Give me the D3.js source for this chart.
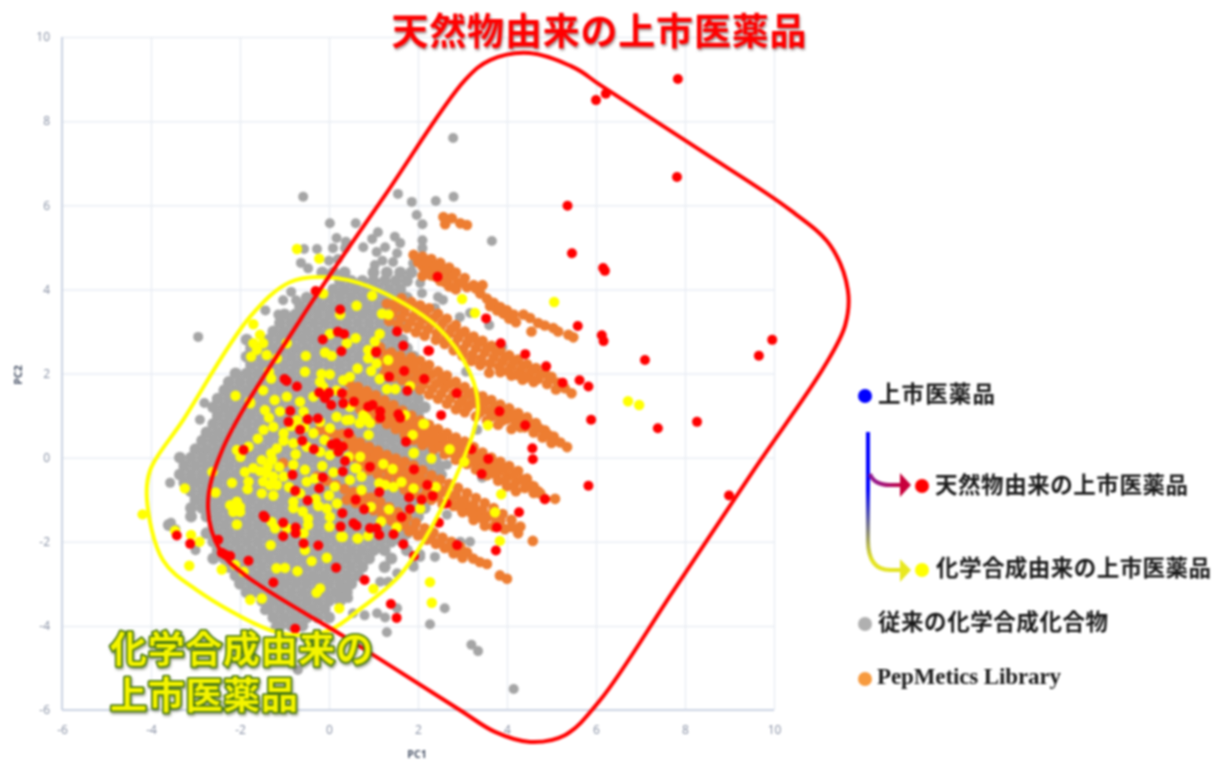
<!DOCTYPE html>
<html lang="ja">
<head>
<meta charset="utf-8">
<script src="https://cdn.jsdelivr.net/npm/d3@7"></script>
<style>
	html, body { margin: 0; padding: 0; background: #fff; }
	svg { display: block; }
	.soft { filter: blur(0.8px); }
	.tick text { font-family: "Open Sans", sans-serif; font-size: 12px; fill: #858ea2; }
	.jp { font-family: "Noto Sans CJK JP", sans-serif; font-weight: 700; }
</style>
</head>
<body>
<div id="chart"></div>
<script>
let axisTicks = [-6, -4, -2, 0, 2, 4, 6, 8, 10];

// grey cloud
let greyRowY = [4.4, 4.2, 4, 3.8, 3.6, 3.4, 3.2, 3, 2.8, 2.6, 2.4, 2.2, 2, 1.8, 1.6, 1.4, 1.2, 1, 0.8, 0.6, 0.4, 0.2, 0, -0.2, -0.4, -0.6, -0.8, -1, -1.2, -1.4, -1.6, -1.8, -2, -2.2, -2.4, -2.6, -2.8, -3, -3.2, -3.4, -3.6, -3.8, -4];
let greyRowX = [
	[-0.15, 0.1, 0.35, 1, 1.3, 1.6, 1.85],
	[0.25, 0.5, 0.75, 1, 1.25, 1.5, 1.75],
	[0.1, 0.35, 0.6, 0.85, 1.1, 1.35, 1.6],
	[-0.5, -0.25, 0, 0.25, 0.5, 0.75, 1, 1.25, 1.5, 1.75],
	[-0.65, -0.4, -0.15, 0.1, 0.35, 0.6, 0.85, 1.1, 1.35, 1.6],
	[-1, -0.75, -0.5, -0.25, 0, 0.25, 0.5, 0.75, 1, 1.25, 1.5],
	[-1.1, -0.85, -0.6, -0.35, -0.1, 0.15, 0.4, 0.65, 0.9, 1.15, 1.4, 1.65],
	[-1.25, -1, -0.75, -0.5, -0.25, 0, 0.25, 0.5, 0.75, 1, 1.25, 1.5],
	[-1.85, -1.35, -1.1, -0.85, -0.6, -0.35, -0.1, 0.15, 0.4, 0.65, 0.9, 1.15, 1.4, 1.65],
	[-1.75, -1.5, -1.25, -1, -0.75, -0.5, -0.25, 0, 0.25, 0.5, 0.75, 1, 1.25, 1.5, 1.75],
	[-1.85, -1.6, -1.35, -1.1, -0.85, -0.6, -0.35, -0.1, 0.15, 0.4, 0.65, 0.9, 1.15, 1.4, 1.65, 1.9],
	[-1.75, -1.5, -1.25, -1, -0.75, -0.5, -0.25, 0, 0.25, 0.5, 0.75, 1, 1.25, 1.5, 1.75],
	[-2.1, -1.85, -1.6, -1.35, -1.1, -0.85, -0.6, -0.35, -0.1, 0.15, 0.4, 0.65, 0.9, 1.15, 1.4, 1.65, 1.9],
	[-2.25, -2, -1.75, -1.5, -1.25, -1, -0.75, -0.5, -0.25, 0, 0.25, 0.5, 0.75, 1, 1.25, 1.5, 1.75, 2],
	[-2.35, -2.1, -1.85, -1.6, -1.35, -1.1, -0.85, -0.6, -0.35, -0.1, 0.15, 0.4, 0.65, 0.9, 1.15, 1.4, 1.65, 1.9],
	[-2.5, -2.25, -2, -1.75, -1.5, -1.25, -1, -0.75, -0.5, -0.25, 0, 0.25, 0.5, 0.75, 1, 1.25, 1.5, 1.75, 2],
	[-2.6, -2.35, -2.1, -1.85, -1.6, -1.35, -1.1, -0.85, -0.6, -0.35, -0.1, 0.15, 0.4, 0.65, 0.9, 1.15, 1.4, 1.65, 1.9, 2.15],
	[-2.5, -2.25, -2, -1.75, -1.5, -1.25, -1, -0.75, -0.5, -0.25, 0, 0.25, 0.5, 0.75, 1, 1.25, 1.5, 1.75, 2],
	[-2.6, -2.35, -2.1, -1.85, -1.6, -1.35, -1.1, -0.85, -0.6, -0.35, -0.1, 0.15, 0.4, 0.65, 0.9, 1.15, 1.4, 1.65, 1.9, 2.15],
	[-2.75, -2.5, -2.25, -2, -1.75, -1.5, -1.25, -1, -0.75, -0.5, -0.25, 0, 0.25, 0.5, 0.75, 1, 1.25, 1.5, 1.75, 2, 2.25],
	[-2.85, -2.6, -2.35, -2.1, -1.85, -1.6, -1.35, -1.1, -0.85, -0.6, -0.35, -0.1, 0.15, 0.4, 0.65, 0.9, 1.15, 1.4, 1.65, 1.9, 2.15, 2.4],
	[-3, -2.75, -2.5, -2.25, -2, -1.75, -1.5, -1.25, -1, -0.75, -0.5, -0.25, 0, 0.25, 0.5, 0.75, 1, 1.25, 1.5, 1.75, 2, 2.25],
	[-3.35, -3.1, -2.85, -2.6, -2.35, -2.1, -1.85, -1.6, -1.35, -1.1, -0.85, -0.6, -0.35, -0.1, 0.15, 0.4, 0.65, 0.9, 1.15, 1.4, 1.65, 1.9, 2.15, 2.4],
	[-3.25, -3, -2.75, -2.5, -2.25, -2, -1.75, -1.5, -1.25, -1, -0.75, -0.5, -0.25, 0, 0.25, 0.5, 0.75, 1, 1.25, 1.5, 1.75, 2, 2.25, 2.5],
	[-3.35, -3.1, -2.85, -2.6, -2.35, -2.1, -1.85, -1.6, -1.35, -1.1, -0.85, -0.6, -0.35, -0.1, 0.15, 0.4, 0.65, 0.9, 1.15, 1.4, 1.65, 1.9, 2.15, 2.4],
	[-3.25, -3, -2.75, -2.5, -2.25, -2, -1.75, -1.5, -1.25, -1, -0.75, -0.5, -0.25, 0, 0.25, 0.5, 0.75, 1, 1.25, 1.5, 1.75, 2, 2.25],
	[-3.1, -2.85, -2.6, -2.35, -2.1, -1.85, -1.6, -1.35, -1.1, -0.85, -0.6, -0.35, -0.1, 0.15, 0.4, 0.65, 0.9, 1.15, 1.4, 1.65, 1.9, 2.15, 2.4],
	[-3, -2.75, -2.5, -2.25, -2, -1.75, -1.5, -1.25, -1, -0.75, -0.5, -0.25, 0, 0.25, 0.5, 0.75, 1, 1.25, 1.5, 1.75, 2, 2.25],
	[-3.1, -2.85, -2.6, -2.35, -2.1, -1.85, -1.6, -1.35, -1.1, -0.85, -0.6, -0.35, -0.1, 0.15, 0.4, 0.65, 0.9, 1.15, 1.4, 1.65, 1.9, 2.15],
	[-3.1, -2.75, -2.5, -2.25, -2, -1.75, -1.5, -1.25, -1, -0.75, -0.5, -0.25, 0, 0.25, 0.5, 0.75, 1, 1.25, 1.5, 1.75, 2],
	[-3.6, -2.6, -2.35, -2.1, -1.85, -1.6, -1.35, -1.1, -0.85, -0.6, -0.35, -0.1, 0.15, 0.4, 0.65, 0.9, 1.15, 1.4, 1.65, 1.9],
	[-2.75, -2.5, -2.25, -2, -1.75, -1.5, -1.25, -1, -0.75, -0.5, -0.25, 0, 0.25, 0.5, 0.75, 1, 1.25, 1.5, 1.75],
	[-2.6, -2.35, -2.1, -1.85, -1.6, -1.35, -1.1, -0.85, -0.6, -0.35, -0.1, 0.15, 0.4, 0.65, 0.9, 1.15, 1.4, 1.65],
	[-2.5, -2.25, -2, -1.75, -1.5, -1.25, -1, -0.75, -0.5, -0.25, 0, 0.25, 0.5, 0.75, 1, 1.25, 1.75],
	[-2.6, -2.35, -2.1, -1.85, -1.6, -1.35, -1.1, -0.85, -0.6, -0.35, -0.1, 0.15, 0.4, 0.65, 0.9, 1.4],
	[-2.25, -2, -1.75, -1.5, -1.25, -1, -0.75, -0.5, -0.25, 0, 0.25, 0.5, 0.75, 1.25],
	[-2.1, -1.85, -1.6, -1.35, -1.1, -0.85, -0.6, -0.35, -0.1, 0.15, 0.4, 0.65],
	[-2, -1.75, -1.5, -1.25, -1, -0.75, -0.5, -0.25, 0, 0.25, 0.5],
	[-1.85, -1.6, -1.35, -1.1, -0.85, -0.6, -0.35, -0.1, 0.15, 0.4],
	[-1.5, -1.25, -1, -0.75, -0.5, -0.25, 0, 0.25],
	[-1.35, -1.1, -0.85, -0.6, -0.35, -0.1],
	[-1.25, -1, -0.75, -0.5, -0.25, 0],
	[-1.1, -0.85, -0.6]
];
let greyScatter = [[-0.58, 6.2], [0.02, 5.57], [0.6, 5.57], [1.55, 6.27], [1.86, 6.08], [1.97, 5.77], [2.1, 5.55], [0.17, 5.22], [0.38, 5.13], [1.1, 5.36], [0.97, 5.2], [1.48, 5.25], [1.6, 5.1], [2.1, 5.17], [2.1, 4.98], [-0.56, 4.96], [-0.27, 4.96], [0.09, 4.98], [0.36, 4.98], [0.77, 5], [1.07, 4.89], [1.26, 5], [1.53, 4.86], [-0.63, 4.63], [-0.47, 4.5], [0, 4.68], [0.2, 4.72], [1.44, 4.65], [1.89, 4.62], [1.03, 4.58], [1.2, 4.68], [-0.85, 3.94], [-1.03, 3.74], [-0.74, 3.74], [-1.43, 3.5], [-1.14, 3.4], [-2.94, 2.87], [2.79, 7.6], [2.8, 6.2], [2.4, 6.1], [3.66, 5.15], [2.94, 3.34], [3.17, 3.44], [3.6, 3.15], [3.89, 2.63], [3.08, 2.04], [2.45, 3.82], [2.56, 3.75], [2.09, 3.91], [2.05, 4.15], [2.38, 3.56], [-2.8, 1.3], [-2.9, 0.9], [-3.57, -0.6], [-3.55, -1.55], [-3.45, -1.7], [-3, -2.2], [-1.44, -3.63], [1.3, -4.15], [1.53, -3.58], [0.54, -3.7], [0.8, -3.75], [1.08, -3.7], [1.26, -3.8], [0.25, -3.34], [0.43, -3.34], [0.25, -3.07], [0.4, -3.07], [1.15, -2.95], [1.33, -2.95], [1.53, -2.75], [1.9, -2.6], [2.05, -2.3], [2.65, -1.36], [2.95, -2], [3.17, -2], [2.38, -2.36], [2.05, -2.36], [1.89, -2.55], [2.65, -0.17], [2.54, -0.41], [3.44, -0.48], [3.33, 0.66], [2.6, -3.58], [2.27, -3.96], [-1.2, -4.03], [-0.7, -5.05], [3.2, -4.45], [3.35, -4.6], [4.15, -5.5], [-0.3, -4.3], [-0.8, -4.3]];

// orange streaks, top to bottom
let orangeBand0 = [[2.57, 5.72], [2.76, 5.69], [2.61, 5.55], [2.95, 5.57], [3.1, 5.53]];
let orangeBand1 = [[1.9, 4.82], [2.1, 4.78], [2.3, 4.72], [2.5, 4.63], [2.7, 4.52], [2.85, 4.4], [3.05, 4.27], [3.25, 4.1], [2.1, 4.55], [2.3, 4.5], [2.5, 4.4], [2.7, 4.28], [2.9, 4.15], [3.1, 4.05], [2.1, 4.32], [2.3, 4.33], [2.5, 4.2], [2.7, 4.07], [2.85, 4], [3.3, 4.02], [3.45, 4.1], [3.4, 3.9], [3.55, 3.78], [3.7, 3.68], [3.85, 3.58], [4, 3.5], [4.15, 3.4], [4.2, 3.22], [4.37, 3.4], [4.52, 3.32], [4.7, 3.2], [4.85, 3.14], [5.04, 3.08], [5.15, 3], [5.38, 2.92], [5.49, 2.86], [4.55, 3], [2, 4.65], [2.2, 4.62], [2.4, 4.55], [2.6, 4.45], [2.8, 4.32], [3, 4.16], [2.2, 4.42], [2.4, 4.3], [2.6, 4.17], [2.8, 4.05], [3.62, 3.6], [3.78, 3.5], [3.92, 3.42], [4.05, 3.3]];
let orangeBand2 = [[1.63, 3.79], [1.85, 3.7], [2.05, 3.62], [2.25, 3.55], [2.45, 3.42], [2.65, 3.3], [2.85, 3.15], [3.05, 3], [3.25, 2.88], [3.45, 2.78], [3.65, 2.66], [3.85, 2.55], [4.05, 2.43], [4.25, 2.33], [4.45, 2.22], [4.65, 2.13], [4.85, 2.02], [5, 1.92], [5.15, 1.78], [5.3, 1.65], [5.45, 1.53], [1.3, 3.66], [1.5, 3.55], [1.7, 3.45], [1.9, 3.35], [2.1, 3.28], [2.3, 3.18], [2.5, 3.08], [2.7, 2.95], [2.9, 2.85], [3.1, 2.72], [3.3, 2.6], [3.5, 2.5], [3.7, 2.38], [3.9, 2.28], [4.1, 2.17], [4.3, 2.07], [4.5, 1.97], [4.7, 1.87], [4.9, 1.75], [5.1, 1.62], [1.35, 3.25], [1.55, 3.18], [1.75, 3.08], [1.95, 2.98], [2.15, 2.9], [2.4, 2.8], [2.6, 2.7], [2.8, 2.55], [3, 2.42], [3.2, 2.3], [3.4, 2.2], [3.6, 2.02], [3.85, 2.03], [4.1, 1.95], [4.35, 1.85], [1.5, 3.68], [1.72, 3.58], [1.95, 3.5], [2.15, 3.42], [2.35, 3.32], [2.55, 3.2], [2.75, 3.07], [2.95, 2.95], [3.15, 2.82], [3.35, 2.72], [3.55, 2.6], [3.75, 2.5], [3.95, 2.38], [4.15, 2.28], [4.35, 2.17], [4.55, 2.07], [4.75, 1.97], [4.95, 1.85], [5.15, 1.7], [1.42, 3.42], [1.62, 3.32], [1.82, 3.22], [2.02, 3.13], [2.22, 3.05], [2.42, 2.95], [2.62, 2.83], [2.82, 2.7], [3.02, 2.58], [3.22, 2.45], [3.42, 2.35], [3.62, 2.24], [3.82, 2.16], [4.02, 2.06], [4.22, 1.97], [4.42, 1.9], [4.6, 1.8]];
let orangeBand3 = [[1.15, 2.62], [1.4, 2.5], [1.6, 2.42], [1.85, 2.38], [2.05, 2.3], [2.25, 2.2], [2.45, 2.05], [2.65, 1.95], [2.85, 1.8], [3.05, 1.68], [3.25, 1.56], [3.45, 1.46], [3.65, 1.37], [3.85, 1.26], [4.05, 1.17], [4.25, 1.06], [4.45, 0.96], [4.65, 0.82], [4.85, 0.65], [5.05, 0.5], [5.2, 0.36], [5.35, 0.25], [1.2, 2.3], [1.4, 2.22], [1.6, 2.15], [1.8, 2.07], [2, 1.97], [2.2, 1.87], [2.4, 1.75], [2.6, 1.65], [2.8, 1.52], [3, 1.38], [3.2, 1.28], [3.4, 1.2], [3.6, 1.1], [3.8, 1], [4, 0.92], [4.2, 0.82], [4.4, 0.72], [4.6, 0.6], [4.8, 0.48], [5, 0.35], [1.25, 2], [1.45, 1.92], [1.65, 1.84], [1.85, 1.72], [2.05, 1.62], [2.25, 1.5], [2.45, 1.4], [2.65, 1.28], [2.85, 1.15], [3.05, 1.08], [3.3, 0.98], [3.55, 0.88], [3.8, 0.78], [4.1, 0.68], [1.3, 2.45], [1.5, 2.33], [1.72, 2.27], [1.92, 2.18], [2.12, 2.08], [2.32, 1.98], [2.52, 1.85], [2.72, 1.75], [2.92, 1.62], [3.12, 1.5], [3.32, 1.4], [3.52, 1.32], [3.72, 1.22], [3.92, 1.12], [4.12, 1.02], [4.32, 0.92], [4.52, 0.82], [4.72, 0.7], [4.92, 0.55], [1.3, 2.15], [1.5, 2.05], [1.72, 1.95], [1.92, 1.85], [2.12, 1.74], [2.32, 1.64], [2.52, 1.52], [2.72, 1.4], [2.92, 1.28], [3.12, 1.2], [3.4, 1.08], [3.65, 0.98], [3.9, 0.88], [4.3, 0.72]];
let orangeBand4 = [[0.45, 1.78], [0.65, 1.68], [0.85, 1.58], [1.05, 1.48], [1.25, 1.36], [1.45, 1.25], [1.65, 1.12], [1.85, 1], [2.05, 0.88], [2.25, 0.78], [2.45, 0.68], [2.65, 0.58], [2.85, 0.48], [3.05, 0.38], [3.25, 0.25], [3.45, 0.12], [3.65, 0], [3.85, -0.1], [4.05, -0.2], [4.25, -0.32], [4.45, -0.5], [4.6, -0.68], [4.75, -0.85], [0.4, 1.5], [0.6, 1.42], [0.8, 1.33], [1, 1.22], [1.2, 1.1], [1.4, 0.98], [1.6, 0.86], [1.8, 0.74], [2, 0.62], [2.2, 0.52], [2.4, 0.42], [2.6, 0.32], [2.8, 0.2], [3, 0.1], [3.2, 0], [3.4, -0.12], [3.6, -0.22], [3.8, -0.34], [4, -0.46], [4.2, -0.58], [4.4, -0.72], [4.6, -0.84], [4.85, -0.98], [5.08, -0.98], [0.7, 1.15], [0.9, 1.05], [1.1, 0.92], [1.3, 0.8], [1.5, 0.68], [1.7, 0.55], [1.9, 0.42], [2.1, 0.3], [2.35, 0.2], [2.6, 0.08], [2.85, -0.05], [3.1, -0.15], [3.3, -0.28], [3.55, -0.42], [3.8, -0.55], [4, -0.68], [4.2, -0.8], [0.55, 1.6], [0.75, 1.5], [0.95, 1.4], [1.15, 1.28], [1.35, 1.17], [1.55, 1.05], [1.75, 0.93], [1.95, 0.8], [2.15, 0.68], [2.35, 0.58], [2.55, 0.48], [2.75, 0.38], [2.95, 0.28], [3.15, 0.16], [3.35, 0.05], [3.55, -0.07], [3.75, -0.17], [3.95, -0.28], [4.15, -0.4], [4.35, -0.52], [4.55, -0.67], [4.7, -0.8], [0.65, 1.28], [0.85, 1.18], [1.05, 1.07], [1.25, 0.95], [1.45, 0.83], [1.65, 0.7], [1.85, 0.58], [2.05, 0.46], [2.25, 0.36], [2.5, 0.25], [2.75, 0.12], [2.95, 0.03], [3.2, -0.08], [3.45, -0.25], [3.7, -0.38], [3.95, -0.55], [4.15, -0.68]];
let orangeBand5 = [[-0.2, 0.66], [0, 0.6], [0.15, 0.55], [0.1, 0.3], [0.3, 0.56], [0.5, 0.46], [0.7, 0.36], [0.9, 0.26], [1.1, 0.16], [1.3, 0.06], [1.5, -0.02], [1.7, -0.1], [1.9, -0.18], [2.1, -0.3], [2.3, -0.42], [2.5, -0.52], [2.7, -0.62], [2.9, -0.72], [3.1, -0.84], [3.3, -0.96], [3.5, -1.08], [3.7, -1.2], [3.9, -1.34], [4.1, -1.48], [4.3, -1.64], [0.35, 0.3], [0.55, 0.2], [0.75, 0.1], [0.95, 0], [1.15, -0.1], [1.35, -0.2], [1.55, -0.32], [1.75, -0.44], [1.95, -0.54], [2.15, -0.62], [2.35, -0.72], [2.55, -0.82], [2.75, -0.94], [2.95, -1.06], [3.15, -1.18], [3.35, -1.3], [3.55, -1.42], [3.75, -1.56], [3.95, -1.7], [4.25, -1.8], [4.58, -1.98], [0.7, -0.2], [0.9, -0.3], [1.1, -0.4], [1.3, -0.52], [1.5, -0.65], [1.7, -0.76], [1.9, -0.86], [2.1, -0.94], [2.3, -1], [2.55, -1.1], [2.8, -1.15], [3, -1.3], [3.25, -1.48], [3.5, -1.62], [0.45, 0.4], [0.65, 0.3], [0.85, 0.2], [1.05, 0.08], [1.25, -0.02], [1.45, -0.12], [1.65, -0.22], [1.85, -0.33], [2.05, -0.43], [2.25, -0.55], [2.45, -0.65], [2.65, -0.76], [2.85, -0.88], [3.05, -1], [3.25, -1.12], [3.45, -1.24], [3.65, -1.36], [3.85, -1.5], [4.1, -1.65], [0.55, 0.02], [0.75, -0.08], [0.95, -0.17], [1.15, -0.27], [1.35, -0.38], [1.55, -0.5], [1.75, -0.6], [1.95, -0.7], [2.2, -0.8], [2.45, -0.93], [2.7, -1.04], [2.95, -1.18], [3.2, -1.32], [3.45, -1.46], [3.7, -1.64]];
let orangeBand6 = [[-1.03, -0.13], [-0.27, -0.45], [-0.05, -0.55], [0.15, -0.65], [0.35, -0.75], [0.55, -0.82], [0.75, -0.88], [0.95, -0.95], [1.15, -1.05], [1.35, -1.18], [1.55, -1.3], [1.75, -1.42], [1.95, -1.55], [2.15, -1.68], [2.35, -1.78], [2.55, -1.9], [2.75, -2], [2.95, -2.12], [3.1, -2.25], [0.4, -1], [0.6, -1.08], [0.8, -1.15], [1, -1.25], [1.2, -1.38], [1.4, -1.5], [1.6, -1.62], [1.8, -1.75], [2, -1.85], [2.2, -1.95], [2.4, -2.05], [2.6, -2.15], [2.8, -2.28], [3, -2.38], [3.24, -2.4], [3.39, -2.48], [3.55, -2.53], [3.84, -2.8], [4, -2.88], [0.5, -0.93], [0.7, -1], [0.9, -1.08], [1.1, -1.2], [1.3, -1.33], [1.5, -1.45], [1.7, -1.58], [1.9, -1.7], [2.1, -1.82], [2.3, -1.92], [2.5, -2.02], [2.7, -2.13], [2.9, -2.24]];

let yellowPoints = [[6.72, 1.34], [6.97, 1.25], [5.06, 3.7], [2.99, 3.77], [3.28, 3.44], [2.27, -2.96], [2.31, -3.45], [3.87, -0.87], [3.84, -1.98], [3.73, -1.3], [3.57, 0.77], [3.04, -0.1], [2.71, 0.2], [2.3, -0.02], [2.14, 0.8], [1.71, 1.01], [1.88, 0.54], [1.91, 0.12], [1.22, -0.15], [1.43, -0.27], [1.63, -0.58], [1.9, -0.73], [2.4, -0.7], [1.13, -0.61], [1.26, -0.65], [1.45, -0.7], [2.05, -1.21], [1.35, -1.23], [0.94, -1.17], [1.17, -1.52], [1.52, -1.66], [0.88, -1.86], [0.64, -1.92], [0.31, -1.88], [1, -3.12], [0.73, -0.77], [0.47, -0.53], [0.73, -0.45], [0.59, -0.25], [0.7, 0.02], [0.89, 0.54], [0.47, 0.9], [0.77, 0.93], [0.92, 0.82], [0.69, 0.82], [-0.72, 4.96], [-0.22, 4.73], [-0.13, 3.9], [0.62, 3.61], [0.25, 3.4], [0.97, 3.85], [1.19, 3.42], [1.34, 3.4], [-1.7, 3.17], [-1.55, 2.92], [-1.7, 2.72], [-1.48, 2.72], [-1.62, 2.56], [-1.75, 2.4], [-1.4, 2.44], [-1.17, 2.36], [-0.95, 2.72], [-0.52, 2.42], [0.02, 2.94], [0.4, 2.72], [0.6, 2.84], [1.14, 2.94], [1.03, 2.76], [0.88, 2.56], [-0.09, 2.5], [0.06, 2.42], [0.88, 2.36], [1.07, 2.24], [0.95, 2.06], [1.33, 2.32], [1.14, 1.87], [1.3, 1.63], [1.49, 1.63], [0.64, 2.12], [0.47, 1.92], [0.32, 1.84], [-0.17, 1.99], [0.02, 1.98], [-0.2, 1.8], [-0.54, 2.04], [-1.35, 2.04], [-1.3, 1.88], [-2.1, 1.47], [-1.78, 1.33], [-1.48, 1.6], [-1.44, 1.13], [-1.22, 1.37], [-0.95, 1.45], [-0.65, 1.33], [-0.35, 1.45], [-0.13, 1.68], [0.17, 1.6], [0.47, 1.21], [0.77, 1.01], [1.82, 1.7], [-1.77, 1.29], [-1.47, 0.66], [-1.25, 0.73], [-1.02, 0.58], [-0.72, 0.89], [-0.57, 1.09], [-0.35, 0.58], [0.02, 0.7], [0.17, 0.97], [0.39, 0.89], [0.84, 0.93], [1.9, 0.1], [2.12, 0.8], [-1.02, 0.4], [-1.17, 0.22], [-0.8, 0.34], [-0.5, 0.26], [-0.2, 0.14], [0.02, 0.06], [0.44, 0.02], [0.62, -0.25], [0.1, -0.35], [-2.07, 0.18], [-1.81, 0.26], [-1.99, 0.02], [-1.51, -0.06], [-1.89, -0.34], [-1.7, -0.25], [-2.62, -0.34], [-2.18, -0.6], [-2.55, -0.83], [-1.81, -0.57], [-1.83, -0.75], [-3.24, -0.73], [-1.51, -0.85], [-1.25, -0.9], [-1.4, -0.37], [-1.25, -0.45], [-1.33, -0.65], [-1.48, -0.57], [-1.17, -0.65], [-1.02, -0.45], [-1.37, -0.21], [-0.8, -0.17], [-0.54, -0.29], [-0.5, -0.57], [-0.8, -1.05], [-0.8, -1.2], [-0.59, -1.28], [-0.24, -1.15], [-0.05, -1.21], [0.18, -1.09], [0.13, -0.69], [0.02, -1.41], [-2.22, -1.13], [-2.07, -1.05], [-2, -1.17], [-2.15, -1.29], [-2, -1.29], [-2.07, -1.59], [-1.29, -1.53], [-1.21, -1.68], [-0.95, -1.68], [-0.47, -1.45], [-0.47, -1.6], [-0.57, -1.8], [0.01, -1.64], [0.27, -1.88], [0.65, -1.92], [-1.31, -2.08], [-0.54, -2.2], [-0.05, -2.38], [-0.39, -2.46], [-1.18, -2.63], [-0.99, -2.62], [-0.71, -2.7], [-3.14, -2.57], [-3.46, -1.74], [-3.1, -1.84], [-2.91, -2], [-2.41, -2.66], [-1.92, -2.71], [-2.11, -2.55], [-1.77, -3.38], [-1.51, -3.35], [-0.2, -3.11], [-0.28, -3.21], [0.23, -3.58], [-4.19, -1.35], [-1.6, 0.45], [-1.35, 0.95], [-1.1, 1.1], [-0.85, 0.75], [-0.55, 0.72], [-0.2, 0.85], [-0.1, 0.42], [-0.75, 0.08], [-1.3, 0.1], [-1.12, -0.22], [-1.55, -0.32], [-1.28, -0.05], [-0.9, -0.7], [-0.65, -0.85], [-0.3, -0.98], [0, -0.9], [-0.15, -0.2], [-0.32, -0.5]];

let redPoints = [[7.84, 9], [6, 8.5], [6.22, 8.65], [7.82, 6.67], [5.36, 5.99], [5.46, 4.86], [6.16, 4.51], [6.2, 4.44], [5.59, 3.13], [6.13, 2.91], [6.17, 2.77], [9.96, 2.8], [9.66, 2.42], [7.1, 2.32], [5.63, 1.84], [5.83, 1.69], [5.25, 1.78], [5.89, 0.9], [8.27, 0.85], [7.39, 0.7], [5.83, -0.67], [8.99, -0.9], [2.44, 4.3], [3.53, 3.31], [3.86, 2.72], [4.41, 2.46], [4.88, 2.17], [1.53, 3], [1.67, 2.66], [2.25, 2.54], [1.69, 2.06], [2.14, 1.87], [2.87, 1.53], [1.35, 1.92], [1.76, 1.59], [1.06, 2.5], [3.83, 1.1], [4.41, 0.77], [4.57, 0.22], [4.58, -0.04], [2.52, 1.01], [3.2, 0.2], [3.58, -0.03], [3.43, -0.39], [4.85, -0.99], [4.27, -1.3], [3.77, -1.66], [3.75, -2.21], [2.64, -1.09], [2.47, -1.55], [2.88, -2.08], [1.67, -2.06], [1.91, -2.34], [0.8, -2.91], [1.39, -3.48], [1.52, -3.81], [1.15, 1.1], [1.15, 0.95], [1.56, 1.03], [1.6, 0.95], [1.73, 0.38], [0.44, 0.58], [0.31, 0.26], [0.36, -0.08], [0.31, -0.33], [0.92, -0.22], [1.91, -0.28], [2.21, -0.65], [2.33, -0.91], [2.08, -1], [1.8, -0.95], [1.82, -1.22], [1.63, -1.41], [1.13, -0.82], [0.6, -1], [0.79, -1.23], [0.3, -1.32], [0.55, -1.56], [0.62, -1.62], [0.92, -1.68], [1.07, -1.68], [1.13, -1.84], [1.45, -1.82], [0.26, -1.64], [-0.3, 3.96], [0.25, 3.52], [0.2, 2.99], [0.34, 2.94], [-0.14, 2.81], [0.28, 2.53], [1.06, 2.52], [-1, 1.87], [-0.95, 1.82], [-0.72, 1.69], [-0.22, 1.55], [0, 1.54], [-0.09, 1.41], [0.05, 1.25], [0.29, 1.53], [0.32, 1.29], [0.56, 1.33], [0.88, 1.21], [0.98, 1.25], [-0.87, 1.11], [-0.91, 0.85], [-0.48, 0.91], [-0.25, 0.93], [-0.65, 0.66], [-0.6, 0.4], [-0.34, 0.2], [-1.92, 0.18], [0.06, 0.31], [0.17, 0.34], [0.21, 0.14], [-0.82, -0.41], [-0.14, -0.47], [-0.22, -0.73], [-0.76, -0.79], [-0.48, -1.02], [-1.47, -1.38], [-1.44, -1.42], [-1.03, -1.55], [-1.03, -1.87], [-0.75, -1.66], [-0.75, -1.8], [-0.57, -2.04], [-0.24, -2.09], [0.16, -2.62], [-1.81, -2.45], [-2.22, -2.34], [-2.33, -2.31], [-2.41, -2.26], [-2.49, -1.95], [-3.42, -1.85], [-3.12, -2.05], [-1.25, -2.97], [-0.76, -4.07], [2.23, 2.54]];

// hand drawn outlines, in PC units
let redOutline = [[4.5, 9.62], [5.53, 9.26], [6.09, 8.86], [8.34, 7.31], [10.36, 5.89], [11.26, 5.05], [11.66, 3.98], [11.6, 3.15], [11.15, 2.2], [9.55, -0.29], [7.75, -3.15], [6.09, -5.77], [5.3, -6.6], [4.52, -6.76], [3.73, -6.52], [2.94, -6], [0.47, -4.34], [-1.89, -2.79], [-2.45, -2.2], [-2.72, -1.13], [-2.4, 0.18], [-0.65, 3.27], [1.26, 6.24], [3.06, 8.98], [3.62, 9.45]];
let yellowOutline = [[-0.04, 4.29], [0.92, 4.06], [2.43, 3.11], [3.17, 2.01], [3.35, 1.2], [3.24, 0.59], [2.79, -0.6], [2.27, -1.72], [1.6, -2.79], [0.76, -3.55], [0.02, -4.1], [-0.65, -4.22], [-1.33, -4.1], [-2.97, -3.15], [-3.73, -2.44], [-4.09, -1.01], [-4.02, -0.3], [-3.28, 0.89], [-1.78, 3.34], [-0.88, 4.17]];

let width = 1215;
let height = 762;

let x = d3.scaleLinear().domain([-6, 10]).range([62, 774]);
let y = d3.scaleLinear().domain([-6, 10]).range([710, 37]);

let svg = d3.select("#chart").append("svg")
	.attr("width", width)
	.attr("height", height);

let defs = svg.append("defs");
let stemGrad = defs.append("linearGradient").attr("id", "stemGrad")
	.attr("gradientUnits", "userSpaceOnUse")
	.attr("x1", 0).attr("x2", 0).attr("y1", 432).attr("y2", 560);
stemGrad.append("stop").attr("offset", "45%").attr("stop-color", "#0000ff");
stemGrad.append("stop").attr("offset", "100%").attr("stop-color", "#e4e420");
let redGrad = defs.append("linearGradient").attr("id", "redGrad")
	.attr("gradientUnits", "userSpaceOnUse")
	.attr("x1", 868).attr("x2", 910).attr("y1", 0).attr("y2", 0);
redGrad.append("stop").attr("offset", "0%").attr("stop-color", "#8a1a9a");
redGrad.append("stop").attr("offset", "100%").attr("stop-color", "#d00030");

let soft = svg.append("g").attr("class", "soft");

// gridlines and axes, plain hyphen on the negative ticks like the original
soft.append("g")
	.attr("transform", "translate(0," + y(-6) + ")")
	.call(d3.axisBottom(x).tickValues(axisTicks).tickFormat(d => String(d)).tickSize(y(10) - y(-6)).tickPadding(15))
	.call(g => g.selectAll(".tick line").attr("stroke", "#e9edf4").attr("stroke-width", 1.5))
	.call(g => g.select(".domain").remove());
soft.append("g")
	.attr("transform", "translate(" + x(-6) + ",0)")
	.call(d3.axisLeft(y).tickValues(axisTicks).tickFormat(d => String(d)).tickSize(x(-6) - x(10)).tickPadding(12))
	.call(g => g.selectAll(".tick line").attr("stroke", "#e9edf4").attr("stroke-width", 1.5))
	.call(g => g.select(".domain").remove());
soft.append("line")
	.attr("x1", x(-6)).attr("x2", x(-6)).attr("y1", y(-6)).attr("y2", y(10))
	.attr("stroke", "#ccd4e4").attr("stroke-width", 2);
soft.append("line")
	.attr("x1", x(-6)).attr("x2", x(10)).attr("y1", y(-6)).attr("y2", y(-6))
	.attr("stroke", "#ccd4e4").attr("stroke-width", 2);

soft.append("text")
	.attr("x", 417).attr("y", 758).attr("text-anchor", "middle")
	.attr("font-family", "Open Sans, sans-serif").attr("font-weight", 700).attr("font-size", 10.5)
	.attr("fill", "#4a5468").text("PC1");
soft.append("text")
	.attr("transform", "translate(22,375) rotate(-90)").attr("text-anchor", "middle")
	.attr("font-family", "Open Sans, sans-serif").attr("font-weight", 700).attr("font-size", 10.5)
	.attr("fill", "#4a5468").text("PC2");

// points
function drawDots(points, color, r) {
	soft.append("g").selectAll("circle")
		.data(points)
		.enter().append("circle")
		.attr("cx", d => x(d[0]))
		.attr("cy", d => y(d[1]))
		.attr("r", r)
		.attr("fill", color);
}

let greyPoints = [];
greyRowY.forEach((rowY, i) => greyRowX[i].forEach(rowX => greyPoints.push([rowX, rowY])));
drawDots(greyPoints, "#a5a5a5", 6);
drawDots(greyScatter, "#a5a5a5", 5);

let orangePoints = [].concat(orangeBand0, orangeBand1, orangeBand2, orangeBand3, orangeBand4, orangeBand5, orangeBand6);
drawDots(orangePoints, "#ed7d31", 5.3);
drawDots(yellowPoints, "#ffff00", 5.2);
drawDots(redPoints, "#ff0000", 5);

// outlines
let outline = d3.line()
	.x(d => x(d[0]))
	.y(d => y(d[1]))
	.curve(d3.curveCatmullRomClosed.alpha(0.5));
soft.append("path").attr("d", outline(yellowOutline))
	.attr("fill", "none").attr("stroke", "#ffff00").attr("stroke-width", 4);
soft.append("path").attr("d", outline(redOutline))
	.attr("fill", "none").attr("stroke", "#ff0000").attr("stroke-width", 4);

// big labels
soft.append("text").attr("class", "jp")
	.attr("x", 599).attr("y", 45).attr("text-anchor", "middle")
	.attr("font-size", 37).attr("textLength", 415).attr("lengthAdjust", "spacing")
	.attr("fill", "#ff0000")
	.style("filter", "drop-shadow(1px 2px 1px rgba(90,60,60,0.55))")
	.text("天然物由来の上市医薬品");
[["化学合成由来の", 663, 263], ["上市医薬品", 709, 188]].forEach(function(d) {
	soft.append("text").attr("class", "jp")
		.attr("x", 110).attr("y", d[1])
		.attr("font-size", 37).attr("textLength", d[2]).attr("lengthAdjust", "spacing")
		.attr("fill", "#f4f400").attr("stroke", "#4b7a12").attr("stroke-width", 3.5)
		.attr("stroke-linejoin", "round").attr("paint-order", "stroke")
		.style("filter", "drop-shadow(1px 2px 1px rgba(70,80,50,0.5))")
		.text(d[0]);
});

// legend on the right
let legendDots = [[865, 396, "#0000ff"], [922, 486, "#ff0000"], [922, 570, "#ffff00"], [865, 624, "#b0b0b0"], [865, 679, "#f79a3e"]];
soft.append("g").selectAll("circle")
	.data(legendDots)
	.enter().append("circle")
	.attr("cx", d => d[0]).attr("cy", d => d[1]).attr("r", 7)
	.attr("fill", d => d[2]);

let legendLabels = [[878, 402, "上市医薬品", 117], [935, 493, "天然物由来の上市医薬品", 253], [936, 576, "化学合成由来の上市医薬品", 275], [878, 630, "従来の化学合成化合物", 230]];
legendLabels.forEach(function(d) {
	soft.append("text").attr("class", "jp")
		.attr("x", d[0]).attr("y", d[1])
		.attr("font-size", 22.5).attr("textLength", d[3]).attr("lengthAdjust", "spacing")
		.attr("fill", "#1a1a1a").text(d[2]);
});
soft.append("text")
	.attr("x", 877).attr("y", 684)
	.attr("font-family", "Liberation Serif, serif").attr("font-weight", 700).attr("font-size", 23)
	.attr("textLength", 184).attr("lengthAdjust", "spacing")
	.attr("fill", "#1a1a1a").text("PepMetics Library");

// lineage arrows
soft.append("path")
	.attr("d", "M868,432V540Q868,570 890,570H902")
	.attr("fill", "none").attr("stroke", "url(#stemGrad)").attr("stroke-width", 4);
soft.append("path").attr("d", "M900,559L911,570L900,582Z").attr("fill", "#e8e820");
soft.append("path")
	.attr("d", "M870,474Q874,485 890,485H902")
	.attr("fill", "none").attr("stroke", "url(#redGrad)").attr("stroke-width", 4);
soft.append("path").attr("d", "M900,473L911,485L900,497Z").attr("fill", "#c8003c");
</script>
</body>
</html>
